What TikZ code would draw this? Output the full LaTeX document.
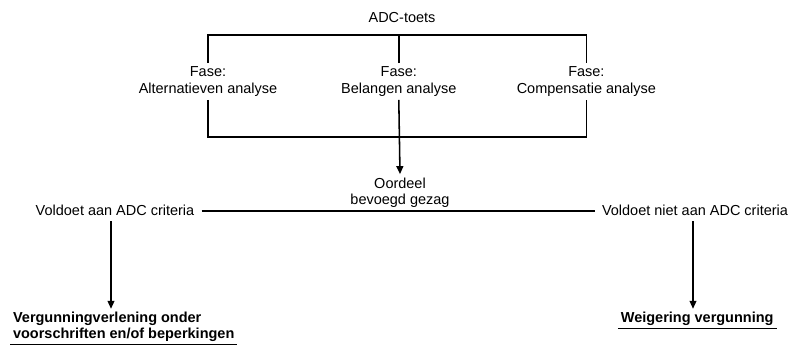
\documentclass[tikz,border=0pt]{standalone}
\usepackage{fontspec}
\setmainfont{Liberation Sans}
\usetikzlibrary{arrows.meta}

\begin{document}
\begin{tikzpicture}[font=\fontsize{10.3}{11.5}\selectfont,
		line/.style={line width=1.1pt},
		pijl/.style={line width=1.1pt,-{Triangle[length=2mm,width=1.7mm]}},
		fase/.style={align=center,inner sep=2.5pt},
		uitkomst/.style={font=\fontsize{10.3}{11.5}\selectfont\bfseries,inner sep=2pt}]
		\useasboundingbox (0,0) rectangle (20,-8.95);
		\node(toets) at (10.05,-0.43){ADC-toets};
		\coordinate(boven) at (0,-0.875);
		\coordinate(onder) at (0,-3.425);
		% fasen
		\node[fase](alt) at (5.2,-2.04){Fase:\\Alternatieven analyse};
		\node[fase](bel) at (9.97,-2.04){Fase:\\Belangen analyse};
		\node[fase](comp) at (14.66,-2.04){Fase:\\Compensatie analyse};
		\draw[line] (alt.north) -- (alt.north |- boven) -- (comp.north |- boven) -- (comp.north);
		\draw[line] (bel.north) -- (bel.north |- boven);
		\draw[line] (alt.south) -- (alt.south |- onder) -- (comp.south |- onder) -- (comp.south);
		\node[fase](oordeel) at (10.0,-4.82){Oordeel\\bevoegd gezag};
		\draw[pijl] (bel.south) -- (oordeel.north);
		% criteria
		\node[inner xsep=5pt](wel) at (2.875,-5.27){Voldoet aan ADC criteria};
		\node[inner xsep=5pt](niet) at (17.375,-5.27){Voldoet niet aan ADC criteria};
		\draw[line] (wel.east) -- (niet.west);
		% uitkomsten
		\node[uitkomst,align=left,anchor=north west](verl) at (0.25,-7.72){Vergunningverlening onder\\voorschriften en/of beperkingen};
		\node[uitkomst,anchor=north](weig) at (17.43,-7.72){Weigering vergunning};
		\draw[line] (verl.south west) -- (verl.south east);
		\draw[line] (weig.south west) -- (weig.south east);
		\draw[pijl] ([xshift=-0.1cm]wel.south) -- ([xshift=-0.1cm]wel.south |- verl.north);
		\draw[pijl] ([xshift=-0.05cm]niet.south) -- ([xshift=-0.05cm]niet.south |- weig.north);
	\end{tikzpicture}
\end{document}
